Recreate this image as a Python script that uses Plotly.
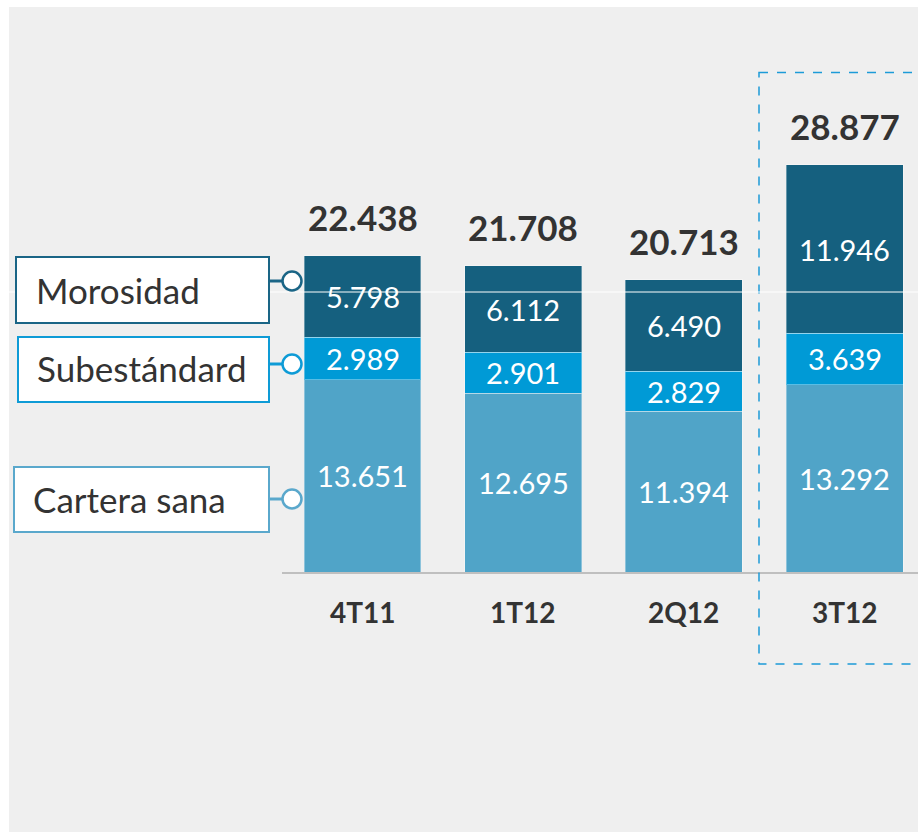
import plotly.graph_objects as go

categories = ["4T11", "1T12", "2Q12", "3T12"]
cartera_sana = [13651, 12695, 11394, 13292]
subestandard = [2989, 2901, 2829, 3639]
morosidad = [5798, 6112, 6490, 11946]
totals = [22438, 21708, 20713, 28877]
series_names = ["Cartera sana", "Subestándard", "Morosidad"]
series_colors = ["#50A4C8", "#009AD6", "#15607F"]

FONT = "Lato"
W_FIG, H_FIG = 918, 832
# plot area in page pixels: x 282..918, y 0..572
L, R, T = 282, 0, 0
PB = 572
B = H_FIG - PB
PW = W_FIG - L - R
PH = PB - T


def fmt(v):
    return f"{v:,}".replace(",", ".")


def px(x):
    return (x - L) / PW


def py(y):
    return (PB - y) / PH


fig = go.Figure()
series = [cartera_sana, subestandard, morosidad]
for name, vals, col in zip(series_names, series, series_colors):
    fig.add_trace(go.Bar(
        x=categories, y=vals, name=name, width=0.728,
        marker=dict(color=col, line=dict(color="rgba(255,255,255,0.35)", width=1)),
        showlegend=False, hoverinfo="skip",
    ))

annotations = []
for i, c in enumerate(categories):
    base = 0
    for vals in series:
        v = vals[i]
        annotations.append(dict(
            x=c, y=base + v / 2, xref="x", yref="y", text=fmt(v), showarrow=False,
            font=dict(family=FONT, size=29, color="white"), yanchor="middle",
        ))
        base += v
    annotations.append(dict(
        x=c, y=totals[i], xref="x", yref="y", text=fmt(totals[i]), showarrow=False,
        font=dict(family=FONT, size=35, color="#333333", weight="bold"),
        yanchor="middle", yshift=39,
    ))
    annotations.append(dict(
        x=c, y=0, xref="x", yref="y", text=c, showarrow=False,
        font=dict(family=FONT, size=28, color="#333333", weight="bold"),
        yanchor="middle", yshift=-40,
    ))

shapes = []
# white strips at left and top of the page
shapes.append(dict(type="rect", xref="paper", yref="paper", x0=px(-2), x1=px(9), y0=py(-2), y1=py(840),
                   fillcolor="white", line=dict(width=0), layer="below"))
shapes.append(dict(type="rect", xref="paper", yref="paper", x0=px(-2), x1=px(920), y0=py(-2), y1=py(7),
                   fillcolor="white", line=dict(width=0), layer="below"))
# dashed highlight box
shapes.append(dict(type="rect", xref="paper", yref="paper", x0=px(759), x1=px(935), y0=py(72.5), y1=py(664),
                   line=dict(color="#1C9BD8", width=1.5, dash="dash"), fillcolor="rgba(0,0,0,0)", layer="above"))
# thin white line
shapes.append(dict(type="line", xref="paper", yref="paper", x0=px(9), x1=px(918), y0=py(292), y1=py(292),
                   line=dict(color="white", width=1), layer="above"))

legend_items = [
    ("Morosidad", "#1A6586", 16, 257, 323, 34, 290, 281),
    ("Subestándard", "#0E9BD6", 18, 337, 402, 35, 368, 364),
    ("Cartera sana", "#5AA8CC", 14, 467, 532, 31, 499, 499),
]
for text, col, bx0, by0, by1, tx, ty, cy in legend_items:
    shapes.append(dict(type="line", xref="paper", yref="paper", x0=px(269), x1=px(284), y0=py(cy), y1=py(cy),
                       line=dict(color=col, width=3), layer="above"))
    shapes.append(dict(type="rect", xref="paper", yref="paper", x0=px(bx0), x1=px(269), y0=py(by1), y1=py(by0),
                       fillcolor="white", line=dict(color=col, width=2), layer="above"))
    shapes.append(dict(type="circle", xref="paper", yref="paper", x0=px(282.5), x1=px(301.5),
                       y0=py(cy + 9.5), y1=py(cy - 9.5),
                       fillcolor="white", line=dict(color=col, width=2.5), layer="above"))
    annotations.append(dict(
        x=px(tx), y=py(ty), xref="paper", yref="paper", text=text, showarrow=False,
        xanchor="left", yanchor="middle", font=dict(family=FONT, size=35, color="#333333"),
    ))

ymax = PH / 14.1 * 1000

fig.update_layout(
    width=W_FIG, height=H_FIG, autosize=False,
    margin=dict(l=L, r=R, t=T, b=B, pad=0),
    paper_bgcolor="#EFEFEF", plot_bgcolor="rgba(0,0,0,0)",
    barmode="stack", bargap=0,
    xaxis=dict(range=[-0.501, 3.457], showticklabels=False, ticks="", showgrid=False, zeroline=False,
               showline=True, linecolor="#BFBFBF", linewidth=2, fixedrange=True),
    yaxis=dict(range=[0, ymax], visible=False, fixedrange=True),
    shapes=shapes, annotations=annotations,
)

fig.write_html(
    "out.html",
    config={"displayModeBar": False, "staticPlot": True},
    post_script="document.body.style.margin='0';document.body.style.overflow='hidden';",
)
